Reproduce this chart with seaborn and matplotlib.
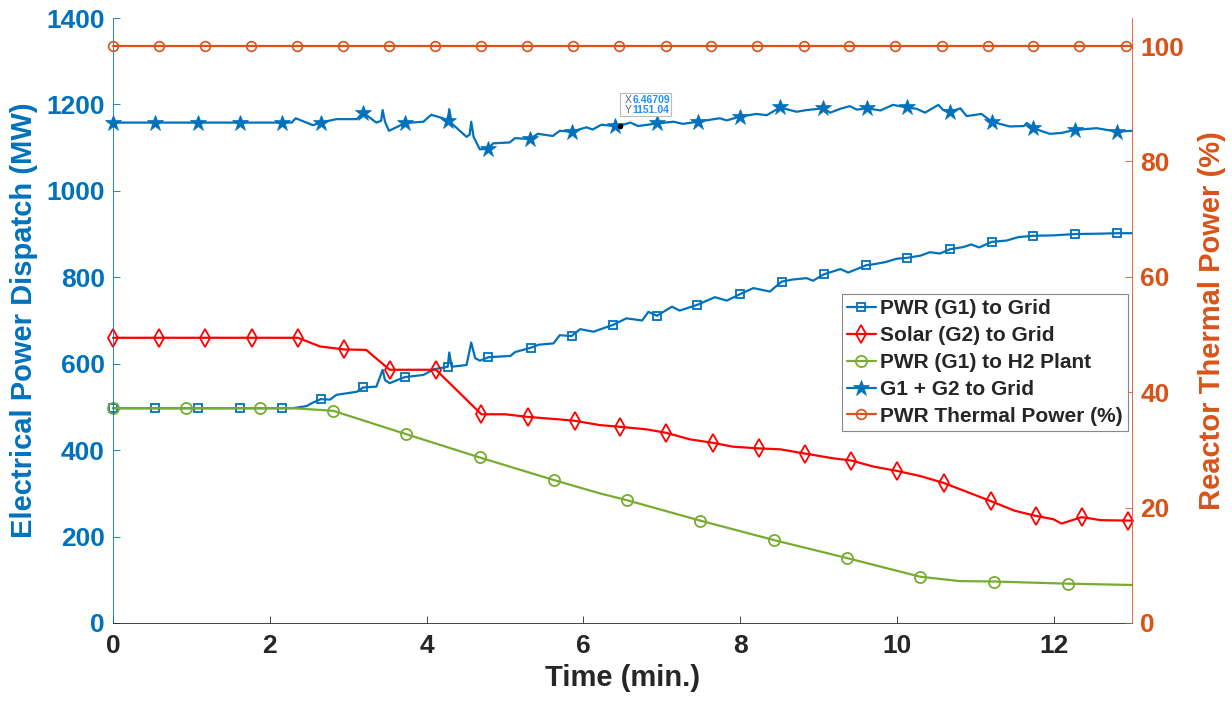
import numpy as np
import pandas as pd
import matplotlib
matplotlib.use("Agg")
import matplotlib.pyplot as plt
from matplotlib.patches import Rectangle
import seaborn as sns

# ---- data ----
# G1 + G2 to grid (MW)
t_total = [0, 0.54, 1.08, 1.62, 2.15, 2.28, 2.33, 2.55, 2.65, 2.85, 3.11, 3.19, 3.36, 3.42,
           3.44, 3.47, 3.52, 3.73, 3.96, 4.06, 4.21, 4.27, 4.29, 4.32, 4.51, 4.55, 4.57, 4.60,
           4.68, 4.79, 4.85, 5.06, 5.13, 5.32, 5.42, 5.61, 5.70, 5.85, 6.04, 6.12, 6.23, 6.40,
           6.47, 6.60, 6.70, 6.94, 7.15, 7.27, 7.46, 7.74, 7.83, 8.00, 8.21, 8.34, 8.51, 8.72,
           8.85, 9.06, 9.15, 9.28, 9.40, 9.49, 9.62, 9.79, 9.95, 10.13, 10.25, 10.36, 10.53,
           10.59, 10.68, 10.81, 10.89, 11.08, 11.21, 11.44, 11.62, 11.66, 11.74, 11.95, 12.10,
           12.27, 12.55, 12.81, 13.0]
p_total = [1158, 1158, 1158, 1158, 1158, 1158, 1168, 1152, 1158, 1166, 1166, 1181, 1158, 1162,
           1187, 1160, 1139, 1157, 1160, 1176, 1168, 1162, 1189, 1156, 1125, 1130, 1160, 1125,
           1096, 1098, 1110, 1112, 1122, 1120, 1132, 1127, 1139, 1137, 1147, 1142, 1153, 1150,
           1151, 1158, 1150, 1156, 1160, 1155, 1160, 1168, 1163, 1172, 1178, 1175, 1193, 1183,
           1187, 1191, 1181, 1190, 1196, 1188, 1191, 1186, 1199, 1193, 1190, 1181, 1199,
           1187, 1183, 1191, 1173, 1178, 1160, 1149, 1150, 1157, 1145, 1132, 1134,
           1141, 1145, 1137, 1139]
mk_total = [0, 0.54, 1.08, 1.62, 2.15, 2.65, 3.19, 3.73, 4.27, 4.79, 5.32, 5.85, 6.40, 6.94,
            7.46, 8.00, 8.51, 9.06, 9.62, 10.13, 10.68, 11.21, 11.74, 12.27, 12.81]

# PWR (G1) to grid (MW)
t_g1 = [0, 0.54, 1.08, 1.62, 2.15, 2.29, 2.47, 2.55, 2.65, 2.77, 2.85, 3.11, 3.19, 3.36, 3.44,
        3.47, 3.53, 3.72, 3.96, 4.09, 4.27, 4.29, 4.32, 4.51, 4.57, 4.62, 4.68, 4.79, 5.07,
        5.13, 5.33, 5.43, 5.62, 5.70, 5.85, 5.96, 6.13, 6.38, 6.55, 6.75, 6.83, 6.94, 7.13,
        7.23, 7.45, 7.68, 7.83, 8.00, 8.17, 8.38, 8.53, 8.68, 8.85, 8.93, 9.07, 9.28, 9.38,
        9.49, 9.61, 9.70, 9.85, 10.00, 10.13, 10.30, 10.42, 10.55, 10.68, 10.85, 10.95,
        11.05, 11.21, 11.40, 11.55, 11.74, 12.00, 12.27, 12.60, 12.81, 13.0]
p_g1 = [497, 497, 497, 497, 497, 497, 502, 510, 518, 517, 528, 535, 545, 547, 586,
        562, 555, 569, 574, 587, 593, 626, 593, 597, 649, 613, 607, 615, 618,
        627, 637, 644, 647, 666, 664, 680, 674, 690, 705, 700, 720, 711, 732,
        723, 736, 754, 746, 761, 775, 767, 790, 795, 798, 792, 807, 819, 811,
        819, 828, 830, 835, 843, 845, 850, 858, 855, 865, 870, 876,
        869, 882, 885, 893, 896, 897, 900, 901, 902, 902]
mk_g1 = [0, 0.54, 1.08, 1.62, 2.15, 2.65, 3.19, 3.72, 4.27, 4.79, 5.33, 5.85, 6.38, 6.94,
         7.45, 8.00, 8.53, 9.07, 9.61, 10.13, 10.68, 11.21, 11.74, 12.27, 12.81]

# Solar (G2) to grid (MW)
t_solar = [0, 0.59, 1.18, 1.77, 2.36, 2.64, 2.95, 3.23, 3.53, 4.12, 4.70, 5.00, 5.29, 5.70,
           5.89, 6.21, 6.47, 6.81, 7.06, 7.36, 7.65, 7.91, 8.24, 8.51, 8.83, 9.19, 9.42,
           9.70, 10.00, 10.30, 10.60, 10.90, 11.20, 11.50, 11.77, 12.00, 12.10, 12.36,
           12.60, 12.95, 13.0]
p_solar = [660, 660, 660, 660, 660, 640, 633, 632, 586, 586, 483, 483, 477, 471,
           468, 458, 454, 448, 440, 425, 417, 408, 404, 402, 392, 381, 376,
           362, 352, 340, 324, 303, 282, 260, 248, 240, 230, 245,
           238, 237, 237]
mk_solar = [0, 0.59, 1.18, 1.77, 2.36, 2.95, 3.53, 4.12, 4.70, 5.29, 5.89, 6.47, 7.06, 7.65,
            8.24, 8.83, 9.42, 10.00, 10.60, 11.20, 11.77, 12.36, 12.95]

# PWR (G1) to H2 plant (MW)
t_h2 = [0, 0.93, 1.87, 2.30, 2.81, 3.74, 4.68, 5.62, 6.21, 6.56, 7.49, 8.43, 9.37, 10.30,
        10.80, 11.24, 12.18, 13.0]
p_h2 = [497, 497, 497, 497, 491, 437, 383, 331, 300, 284, 237, 192, 150, 107,
        97, 96, 91, 88]
mk_h2 = [0, 0.93, 1.87, 2.81, 3.74, 4.68, 5.62, 6.56, 7.49, 8.43, 9.37, 10.30, 11.24, 12.18]

# PWR thermal power (%)
t_th = [0, 0.59, 1.17, 1.76, 2.35, 2.94, 3.52, 4.11, 4.70, 5.28, 5.87, 6.46, 7.05, 7.63,
        8.22, 8.81, 9.39, 9.98, 10.57, 11.16, 11.74, 12.33, 12.92, 13.0]
p_th = [100, 100, 100, 100, 100, 100, 100, 100, 100, 100, 100, 100, 100, 100,
        100, 100, 100, 100, 100, 100, 100, 100, 100, 100]
mk_th = t_th[:-1]

tip_x, tip_y = 6.46709, 1151.04

BLUE = "#0072BD"
RED = "#FF0000"
GREEN = "#77AC30"
ORANGE = "#D95319"


def marks(t, mk):
    t = np.asarray(t)
    return [int(np.argmin(np.abs(t - m))) for m in mk]


sns.set_style("ticks")
plt.rcParams["font.family"] = ["Liberation Sans", "DejaVu Sans"]
plt.rcParams["font.weight"] = "bold"

fig = plt.figure(figsize=(12.32, 7.04), dpi=100)
ax = fig.add_axes([113 / 1232, 81 / 704, 1019 / 1232, 605 / 704])
ax2 = ax.twinx()

common = dict(ax=ax, sort=False, estimator=None, lw=1.6, markerfacecolor="none",
              markeredgewidth=1.3, clip_on=False)

sns.lineplot(x=t_g1, y=p_g1, color=BLUE, marker="s", markersize=6,
             markeredgecolor=BLUE, markevery=marks(t_g1, mk_g1),
             label="PWR (G1) to Grid", **common)
sns.lineplot(x=t_solar, y=p_solar, color=RED, marker="d", markersize=9,
             markeredgecolor=RED, markevery=marks(t_solar, mk_solar),
             label="Solar (G2) to Grid", **common)
sns.lineplot(x=t_h2, y=p_h2, color=GREEN, marker="o", markersize=8,
             markeredgecolor=GREEN, markevery=marks(t_h2, mk_h2),
             label="PWR (G1) to H2 Plant", **common)
sns.lineplot(x=t_total, y=p_total, ax=ax, sort=False, estimator=None, lw=1.6,
             color=BLUE, marker="*", markersize=12, markeredgecolor=BLUE,
             markerfacecolor=BLUE, markeredgewidth=0.5, clip_on=False,
             markevery=marks(t_total, mk_total), label="G1 + G2 to Grid")
sns.lineplot(x=t_th, y=p_th, ax=ax2, sort=False, estimator=None, lw=1.6,
             color=ORANGE, marker="o", markersize=7, markeredgecolor=ORANGE,
             markerfacecolor="none", markeredgewidth=1.2, clip_on=False,
             markevery=marks(t_th, mk_th), label="PWR Thermal Power (%)")

# data tip
ax.plot([tip_x], [tip_y], marker="o", color="black", markersize=3, zorder=6)
ax.add_patch(Rectangle((6.468, 1173), 0.65, 54, facecolor="white", edgecolor="#BBBBBB",
                       lw=0.8, zorder=7))
ax.text(6.53, 1211, "X", color="#666666", fontsize=7.5, fontweight="normal",
        va="center", zorder=8)
ax.text(6.53, 1187, "Y", color="#666666", fontsize=7.5, fontweight="normal",
        va="center", zorder=8)
ax.text(6.63, 1211, f"{tip_x}", color="#1E90FF", fontsize=7.5, fontweight="bold",
        va="center", zorder=8)
ax.text(6.63, 1187, f"{tip_y:.2f}", color="#1E90FF", fontsize=7.5, fontweight="bold",
        va="center", zorder=8)

# axes
ax.set_xlim(0, 13)
ax.set_ylim(0, 1400)
ax2.set_ylim(0, 1400 / 13.35)
ax.set_xticks(np.arange(0, 13, 2))
ax.set_yticks(np.arange(0, 1401, 200))
ax2.set_yticks(np.arange(0, 101, 20))

ax.set_xlabel("Time (min.)", fontsize=21, fontweight="bold", color="#262626", labelpad=4)
ax.set_ylabel("Electrical Power Dispatch (MW)", fontsize=21, fontweight="bold",
              color=BLUE, labelpad=6)
ax2.set_ylabel("Reactor Thermal Power (%)", fontsize=21, fontweight="bold",
               color=ORANGE, labelpad=10)

ax.tick_params(axis="x", direction="in", length=5, width=0.6, colors="#262626",
               labelsize=19, pad=8)
ax.tick_params(axis="y", direction="in", length=5, width=0.6, colors=BLUE,
               labelsize=19, pad=6)
ax2.tick_params(axis="y", direction="in", length=5, width=0.6, colors=ORANGE,
                labelsize=19, pad=6)
for a in (ax, ax2):
    for lab in a.get_xticklabels() + a.get_yticklabels():
        lab.set_fontweight("bold")
    a.spines["top"].set_visible(False)

ax.spines["left"].set_color(BLUE)
ax.spines["bottom"].set_color("#262626")
ax2.spines["left"].set_visible(False)
ax2.spines["bottom"].set_visible(False)
ax2.spines["right"].set_color(ORANGE)
for a in (ax, ax2):
    for s in a.spines.values():
        s.set_linewidth(0.6)
ax.spines["right"].set_visible(False)

h1, l1 = ax.get_legend_handles_labels()
h2, l2 = ax2.get_legend_handles_labels()
if ax.get_legend() is not None:
    ax.get_legend().remove()
if ax2.get_legend() is not None:
    ax2.get_legend().remove()
leg = ax2.legend(h1 + h2, l1 + l2, loc="upper right", bbox_to_anchor=(0.996, 0.544),
                 borderaxespad=0, fontsize=15, frameon=True, fancybox=False,
                 framealpha=1, edgecolor="#888888", handlelength=1.4,
                 handletextpad=0.2, labelspacing=0.38, borderpad=0.25)
leg.get_frame().set_linewidth(0.8)
for txt in leg.get_texts():
    txt.set_fontweight("bold")

fig.savefig("out.png", dpi=100)
